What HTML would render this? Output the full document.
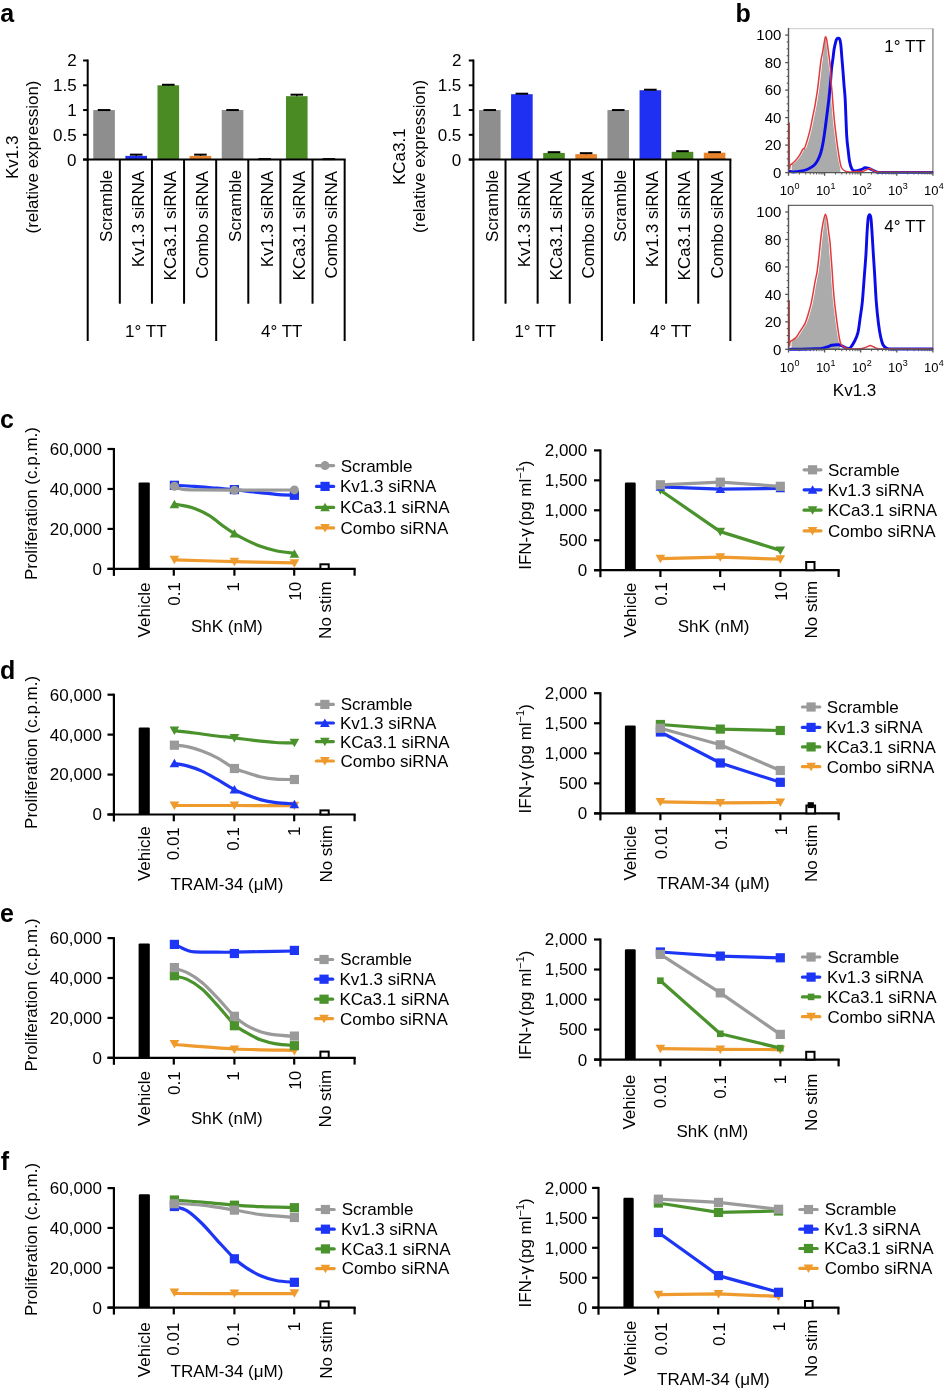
<!DOCTYPE html>
<html><head><meta charset="utf-8"><style>
html,body{margin:0;padding:0;background:#fff;}
svg{display:block;will-change:transform;}
text{font-family:"Liberation Sans", sans-serif;fill:#000;}
</style></head><body>
<svg width="946" height="1390" viewBox="0 0 946 1390">
<rect width="946" height="1390" fill="#fff"/>
<text x="0.3" y="21.7" font-size="25" font-weight="bold" fill="#000">a</text>
<text x="735.6" y="21.8" font-size="25" font-weight="bold" fill="#000">b</text>
<text x="0.1" y="428.2" font-size="25" font-weight="bold" fill="#000">c</text>
<text x="0.1" y="678.9" font-size="25" font-weight="bold" fill="#000">d</text>
<text x="0.1" y="922" font-size="25" font-weight="bold" fill="#000">e</text>
<text x="0.7" y="1170" font-size="25" font-weight="bold" fill="#000">f</text>
<rect x="93.26" y="110.05" width="21.6" height="49.55" fill="#8e8e8e"/>
<line x1="97.76" y1="110.05" x2="110.36" y2="110.05" stroke="#000" stroke-width="2"/>
<rect x="125.38" y="155.88" width="21.6" height="3.72" fill="#1f30f2"/>
<line x1="129.88" y1="154.64" x2="142.48" y2="154.64" stroke="#000" stroke-width="2"/>
<line x1="136.18" y1="154.64" x2="136.18" y2="155.88" stroke="#000" stroke-width="1.5"/>
<rect x="157.5" y="85.28" width="21.6" height="74.32" fill="#4a8b24"/>
<line x1="162" y1="84.78" x2="174.6" y2="84.78" stroke="#000" stroke-width="2"/>
<line x1="168.3" y1="84.78" x2="168.3" y2="85.28" stroke="#000" stroke-width="1.5"/>
<rect x="189.62" y="155.88" width="21.6" height="3.72" fill="#e8842c"/>
<line x1="194.12" y1="154.64" x2="206.72" y2="154.64" stroke="#000" stroke-width="2"/>
<line x1="200.42" y1="154.64" x2="200.42" y2="155.88" stroke="#000" stroke-width="1.5"/>
<rect x="221.74" y="110.05" width="21.6" height="49.55" fill="#8e8e8e"/>
<line x1="226.24" y1="110.05" x2="238.84" y2="110.05" stroke="#000" stroke-width="2"/>
<line x1="258.36" y1="159.1" x2="270.96" y2="159.1" stroke="#000" stroke-width="2"/>
<line x1="264.66" y1="159.1" x2="264.66" y2="159.6" stroke="#000" stroke-width="1.5"/>
<rect x="285.98" y="96.18" width="21.6" height="63.42" fill="#4a8b24"/>
<line x1="290.48" y1="94.69" x2="303.08" y2="94.69" stroke="#000" stroke-width="2"/>
<line x1="296.78" y1="94.69" x2="296.78" y2="96.18" stroke="#000" stroke-width="1.5"/>
<line x1="322.6" y1="159.1" x2="335.2" y2="159.1" stroke="#000" stroke-width="2"/>
<line x1="328.9" y1="159.1" x2="328.9" y2="159.6" stroke="#000" stroke-width="1.5"/>
<line x1="87.7" y1="59.5" x2="87.7" y2="160.6" stroke="#000" stroke-width="2"/>
<line x1="83.1" y1="159.6" x2="87.7" y2="159.6" stroke="#000" stroke-width="2"/>
<text x="67.11" y="165.5" font-size="17" fill="#000">0</text>
<line x1="83.1" y1="134.82" x2="87.7" y2="134.82" stroke="#000" stroke-width="2"/>
<text x="52.98" y="140.72" font-size="17" fill="#000">0.5</text>
<line x1="83.1" y1="110.05" x2="87.7" y2="110.05" stroke="#000" stroke-width="2"/>
<text x="67.28" y="115.95" font-size="17" fill="#000">1</text>
<line x1="83.1" y1="85.28" x2="87.7" y2="85.28" stroke="#000" stroke-width="2"/>
<text x="52.98" y="91.18" font-size="17" fill="#000">1.5</text>
<line x1="83.1" y1="60.5" x2="87.7" y2="60.5" stroke="#000" stroke-width="2"/>
<text x="67.3" y="66.4" font-size="17" fill="#000">2</text>
<line x1="83.1" y1="159.6" x2="345.66" y2="159.6" stroke="#000" stroke-width="2"/>
<line x1="87.7" y1="159.6" x2="87.7" y2="341" stroke="#000" stroke-width="2"/>
<line x1="119.82" y1="159.6" x2="119.82" y2="303.7" stroke="#000" stroke-width="2"/>
<line x1="151.94" y1="159.6" x2="151.94" y2="303.7" stroke="#000" stroke-width="2"/>
<line x1="184.06" y1="159.6" x2="184.06" y2="303.7" stroke="#000" stroke-width="2"/>
<line x1="216.18" y1="159.6" x2="216.18" y2="341" stroke="#000" stroke-width="2"/>
<line x1="248.3" y1="159.6" x2="248.3" y2="303.7" stroke="#000" stroke-width="2"/>
<line x1="280.42" y1="159.6" x2="280.42" y2="303.7" stroke="#000" stroke-width="2"/>
<line x1="312.54" y1="159.6" x2="312.54" y2="303.7" stroke="#000" stroke-width="2"/>
<line x1="344.66" y1="159.6" x2="344.66" y2="341" stroke="#000" stroke-width="2"/>
<text transform="translate(112.06,241.95) rotate(-90)" font-size="17">Scramble</text>
<text transform="translate(144.18,267.23) rotate(-90)" font-size="17">Kv1.3 siRNA</text>
<text transform="translate(176.3,280.46) rotate(-90)" font-size="17">KCa3.1 siRNA</text>
<text transform="translate(208.42,278.56) rotate(-90)" font-size="17">Combo siRNA</text>
<text transform="translate(240.54,241.95) rotate(-90)" font-size="17">Scramble</text>
<text transform="translate(272.66,267.23) rotate(-90)" font-size="17">Kv1.3 siRNA</text>
<text transform="translate(304.78,280.46) rotate(-90)" font-size="17">KCa3.1 siRNA</text>
<text transform="translate(336.9,278.56) rotate(-90)" font-size="17">Combo siRNA</text>
<text x="125.11" y="337.1" font-size="17" fill="#000">1° TT</text>
<text x="261.01" y="337.1" font-size="17" fill="#000">4° TT</text>
<text transform="translate(17.5,179.06) rotate(-90)" font-size="17">Kv1.3</text>
<text transform="translate(38.3,233.53) rotate(-90)" font-size="17">(relative expression)</text>
<rect x="478.96" y="110.05" width="21.6" height="49.55" fill="#8e8e8e"/>
<line x1="483.46" y1="110.05" x2="496.06" y2="110.05" stroke="#000" stroke-width="2"/>
<rect x="511.08" y="94.19" width="21.6" height="65.41" fill="#1f30f2"/>
<line x1="515.58" y1="93.7" x2="528.18" y2="93.7" stroke="#000" stroke-width="2"/>
<line x1="521.88" y1="93.7" x2="521.88" y2="94.19" stroke="#000" stroke-width="1.5"/>
<rect x="543.2" y="152.91" width="21.6" height="6.69" fill="#4a8b24"/>
<line x1="547.7" y1="152.17" x2="560.3" y2="152.17" stroke="#000" stroke-width="2"/>
<line x1="554" y1="152.17" x2="554" y2="152.91" stroke="#000" stroke-width="1.5"/>
<rect x="575.32" y="154.15" width="21.6" height="5.45" fill="#e8842c"/>
<line x1="579.82" y1="153.16" x2="592.42" y2="153.16" stroke="#000" stroke-width="2"/>
<line x1="586.12" y1="153.16" x2="586.12" y2="154.15" stroke="#000" stroke-width="1.5"/>
<rect x="607.44" y="110.05" width="21.6" height="49.55" fill="#8e8e8e"/>
<line x1="611.94" y1="110.05" x2="624.54" y2="110.05" stroke="#000" stroke-width="2"/>
<rect x="639.56" y="90.23" width="21.6" height="69.37" fill="#1f30f2"/>
<line x1="644.06" y1="89.73" x2="656.66" y2="89.73" stroke="#000" stroke-width="2"/>
<line x1="650.36" y1="89.73" x2="650.36" y2="90.23" stroke="#000" stroke-width="1.5"/>
<rect x="671.68" y="151.82" width="21.6" height="7.78" fill="#4a8b24"/>
<line x1="676.18" y1="151.18" x2="688.78" y2="151.18" stroke="#000" stroke-width="2"/>
<line x1="682.48" y1="151.18" x2="682.48" y2="151.82" stroke="#000" stroke-width="1.5"/>
<rect x="703.8" y="152.66" width="21.6" height="6.94" fill="#e8842c"/>
<line x1="708.3" y1="152.17" x2="720.9" y2="152.17" stroke="#000" stroke-width="2"/>
<line x1="714.6" y1="152.17" x2="714.6" y2="152.66" stroke="#000" stroke-width="1.5"/>
<line x1="473.4" y1="59.5" x2="473.4" y2="160.6" stroke="#000" stroke-width="2"/>
<line x1="468.8" y1="159.6" x2="473.4" y2="159.6" stroke="#000" stroke-width="2"/>
<text x="451.81" y="165.5" font-size="17" fill="#000">0</text>
<line x1="468.8" y1="134.82" x2="473.4" y2="134.82" stroke="#000" stroke-width="2"/>
<text x="437.68" y="140.72" font-size="17" fill="#000">0.5</text>
<line x1="468.8" y1="110.05" x2="473.4" y2="110.05" stroke="#000" stroke-width="2"/>
<text x="451.98" y="115.95" font-size="17" fill="#000">1</text>
<line x1="468.8" y1="85.28" x2="473.4" y2="85.28" stroke="#000" stroke-width="2"/>
<text x="437.68" y="91.18" font-size="17" fill="#000">1.5</text>
<line x1="468.8" y1="60.5" x2="473.4" y2="60.5" stroke="#000" stroke-width="2"/>
<text x="452" y="66.4" font-size="17" fill="#000">2</text>
<line x1="468.8" y1="159.6" x2="731.36" y2="159.6" stroke="#000" stroke-width="2"/>
<line x1="473.4" y1="159.6" x2="473.4" y2="341" stroke="#000" stroke-width="2"/>
<line x1="505.52" y1="159.6" x2="505.52" y2="303.7" stroke="#000" stroke-width="2"/>
<line x1="537.64" y1="159.6" x2="537.64" y2="303.7" stroke="#000" stroke-width="2"/>
<line x1="569.76" y1="159.6" x2="569.76" y2="303.7" stroke="#000" stroke-width="2"/>
<line x1="601.88" y1="159.6" x2="601.88" y2="341" stroke="#000" stroke-width="2"/>
<line x1="634" y1="159.6" x2="634" y2="303.7" stroke="#000" stroke-width="2"/>
<line x1="666.12" y1="159.6" x2="666.12" y2="303.7" stroke="#000" stroke-width="2"/>
<line x1="698.24" y1="159.6" x2="698.24" y2="303.7" stroke="#000" stroke-width="2"/>
<line x1="730.36" y1="159.6" x2="730.36" y2="341" stroke="#000" stroke-width="2"/>
<text transform="translate(497.76,241.95) rotate(-90)" font-size="17">Scramble</text>
<text transform="translate(529.88,267.23) rotate(-90)" font-size="17">Kv1.3 siRNA</text>
<text transform="translate(562,280.46) rotate(-90)" font-size="17">KCa3.1 siRNA</text>
<text transform="translate(594.12,278.56) rotate(-90)" font-size="17">Combo siRNA</text>
<text transform="translate(626.24,241.95) rotate(-90)" font-size="17">Scramble</text>
<text transform="translate(658.36,267.23) rotate(-90)" font-size="17">Kv1.3 siRNA</text>
<text transform="translate(690.48,280.46) rotate(-90)" font-size="17">KCa3.1 siRNA</text>
<text transform="translate(722.6,278.56) rotate(-90)" font-size="17">Combo siRNA</text>
<text x="514.41" y="337.1" font-size="17" fill="#000">1° TT</text>
<text x="650.01" y="337.1" font-size="17" fill="#000">4° TT</text>
<text transform="translate(405.3,185.03) rotate(-90)" font-size="17">KCa3.1</text>
<text transform="translate(425,232.93) rotate(-90)" font-size="17">(relative expression)</text>
<path d="M791.7,172.6 C791.75,171.27 791.7,166.07 792,164.6 C792.3,163.13 792.63,164.48 793.5,163.8 C794.37,163.12 795.97,161.85 797.2,160.5 C798.43,159.15 799.67,157.62 800.9,155.7 C802.13,153.78 803.73,150.23 804.6,149 C805.47,147.77 805.35,149.9 806.1,148.3 C806.85,146.7 808.12,142.73 809.1,139.4 C810.08,136.07 811.15,132 812,128.3 C812.85,124.6 813.45,120.9 814.2,117.2 C814.95,113.5 815.82,109.8 816.5,106.1 C817.18,102.4 817.82,98.07 818.3,95 C818.78,91.93 818.85,92.12 819.4,87.7 C819.95,83.28 821.05,73.18 821.6,68.5 C822.15,63.82 822.07,64.48 822.7,59.6 C823.33,54.72 824.47,38.95 825.4,39.2 C826.33,39.45 827.7,56.22 828.3,61.1 C828.9,65.98 828.77,65.05 829,68.5 C829.23,71.95 829.4,77.62 829.7,81.8 C830,85.98 830.42,88.93 830.8,93.6 C831.18,98.27 831.57,104.63 832,109.8 C832.43,114.97 832.78,119.05 833.4,124.6 C834.02,130.15 834.95,137.55 835.7,143.1 C836.45,148.65 837.17,153.83 837.9,157.9 C838.63,161.97 839.67,165.05 840.1,167.5 C840.53,169.95 840.43,171.75 840.5,172.6 Z" fill="#ababab" stroke="none"/>
<line x1="788.5" y1="28.6" x2="932.9" y2="28.6" stroke="#d4d4d4" stroke-width="1.2"/>
<line x1="932.9" y1="28.6" x2="932.9" y2="172.6" stroke="#8a8a8a" stroke-width="1.4"/>
<path d="M789.7,171.2 C790.32,171.33 791.55,172 793.4,172 C795.25,172 798.33,171.7 800.8,171.2 C803.27,170.7 805.98,169.98 808.2,169 C810.42,168.02 812.5,166.78 814.1,165.3 C815.7,163.82 816.68,162.2 817.8,160.1 C818.92,158 819.93,155.53 820.8,152.7 C821.67,149.87 822.27,147.17 823,143.1 C823.73,139.03 824.52,133.23 825.2,128.3 C825.88,123.37 826.48,118.43 827.1,113.5 C827.72,108.57 828.35,103.73 828.9,98.7 C829.45,93.67 829.97,88.22 830.4,83.3 C830.83,78.38 831.07,73.4 831.5,69.2 C831.93,65 832.57,61.43 833,58.1 C833.43,54.77 833.67,51.83 834.1,49.2 C834.53,46.57 835.13,44.03 835.6,42.3 C836.07,40.57 836.25,39.38 836.9,38.8 C837.55,38.22 838.85,37.8 839.5,38.8 C840.15,39.8 840.4,41.58 840.8,44.8 C841.2,48.02 841.53,53.67 841.9,58.1 C842.27,62.53 842.63,66.72 843,71.4 C843.37,76.08 843.73,81.5 844.1,86.2 C844.47,90.9 844.77,91.35 845.2,99.6 C845.63,107.85 846.2,127.22 846.7,135.7 C847.2,144.18 847.72,146.18 848.2,150.5 C848.68,154.82 848.98,158.52 849.6,161.6 C850.22,164.68 851,167.43 851.9,169 C852.8,170.57 853.45,170.9 855,171 C856.55,171.1 859.53,170.13 861.2,169.6 C862.87,169.07 863.73,168 865,167.8 C866.27,167.6 867.38,167.95 868.8,168.4 C870.22,168.85 872.07,169.87 873.5,170.5 C874.93,171.13 875.48,171.88 877.4,172.2 C879.32,172.52 875.9,172.37 885,172.4 C894.1,172.43 924.17,172.4 932,172.4" fill="none" stroke="#0c0ce8" stroke-width="2.9" stroke-linejoin="round" stroke-linecap="round"/>
<path d="M789.2,122.4 C789.23,129.67 789.2,158.97 789.4,166 C789.6,173.03 789.98,164.97 790.4,164.6 C790.82,164.23 791.03,164.48 791.9,163.8 C792.77,163.12 794.37,161.85 795.6,160.5 C796.83,159.15 798.07,157.62 799.3,155.7 C800.53,153.78 802.13,150.23 803,149 C803.87,147.77 803.75,149.9 804.5,148.3 C805.25,146.7 806.52,142.73 807.5,139.4 C808.48,136.07 809.55,132 810.4,128.3 C811.25,124.6 811.85,120.9 812.6,117.2 C813.35,113.5 814.22,109.8 814.9,106.1 C815.58,102.4 816.22,98.07 816.7,95 C817.18,91.93 817.25,92.12 817.8,87.7 C818.35,83.28 819.45,73.18 820,68.5 C820.55,63.82 820.67,62.32 821.1,59.6 C821.53,56.88 822.1,54.92 822.6,52.2 C823.1,49.48 823.63,45.83 824.1,43.3 C824.57,40.77 824.97,37.62 825.4,37 C825.83,36.38 826.23,37.43 826.7,39.6 C827.17,41.77 827.7,46.42 828.2,50 C828.7,53.58 829.33,58.02 829.7,61.1 C830.07,64.18 830.17,65.05 830.4,68.5 C830.63,71.95 830.8,77.62 831.1,81.8 C831.4,85.98 831.82,88.93 832.2,93.6 C832.58,98.27 832.97,104.63 833.4,109.8 C833.83,114.97 834.18,119.05 834.8,124.6 C835.42,130.15 836.35,137.55 837.1,143.1 C837.85,148.65 838.57,153.83 839.3,157.9 C840.03,161.97 840.52,165.28 841.5,167.5 C842.48,169.72 843.72,170.45 845.2,171.2 C846.68,171.95 848.43,171.93 850.4,172 C852.37,172.07 854.9,171.73 857,171.6 C859.1,171.47 861.35,171.55 863,171.2 C864.65,170.85 865.78,169.93 866.9,169.5 C868.02,169.07 868.68,168.47 869.7,168.6 C870.72,168.73 871.78,169.75 873,170.3 C874.22,170.85 875,171.58 877,171.9 C879,172.22 875.83,172.15 885,172.2 C894.17,172.25 924.17,172.2 932,172.2" fill="none" stroke="#e2393b" stroke-width="1.5" stroke-linejoin="round"/>
<line x1="788.5" y1="28" x2="788.5" y2="173.2" stroke="#555" stroke-width="1.4"/>
<line x1="788.5" y1="172.6" x2="932.9" y2="172.6" stroke="#555" stroke-width="1.4"/>
<line x1="785.2" y1="172.6" x2="788.5" y2="172.6" stroke="#555" stroke-width="1.3"/>
<text x="773.04" y="177.8" font-size="15" fill="#000">0</text>
<line x1="786.7" y1="165.72" x2="788.5" y2="165.72" stroke="#555" stroke-width="1.1"/>
<line x1="786.7" y1="158.85" x2="788.5" y2="158.85" stroke="#555" stroke-width="1.1"/>
<line x1="786.7" y1="151.97" x2="788.5" y2="151.97" stroke="#555" stroke-width="1.1"/>
<line x1="785.2" y1="145.1" x2="788.5" y2="145.1" stroke="#555" stroke-width="1.3"/>
<text x="764.7" y="150.3" font-size="15" fill="#000">20</text>
<line x1="786.7" y1="138.22" x2="788.5" y2="138.22" stroke="#555" stroke-width="1.1"/>
<line x1="786.7" y1="131.35" x2="788.5" y2="131.35" stroke="#555" stroke-width="1.1"/>
<line x1="786.7" y1="124.47" x2="788.5" y2="124.47" stroke="#555" stroke-width="1.1"/>
<line x1="785.2" y1="117.6" x2="788.5" y2="117.6" stroke="#555" stroke-width="1.3"/>
<text x="764.7" y="122.8" font-size="15" fill="#000">40</text>
<line x1="786.7" y1="110.72" x2="788.5" y2="110.72" stroke="#555" stroke-width="1.1"/>
<line x1="786.7" y1="103.85" x2="788.5" y2="103.85" stroke="#555" stroke-width="1.1"/>
<line x1="786.7" y1="96.97" x2="788.5" y2="96.97" stroke="#555" stroke-width="1.1"/>
<line x1="785.2" y1="90.1" x2="788.5" y2="90.1" stroke="#555" stroke-width="1.3"/>
<text x="764.7" y="95.3" font-size="15" fill="#000">60</text>
<line x1="786.7" y1="83.22" x2="788.5" y2="83.22" stroke="#555" stroke-width="1.1"/>
<line x1="786.7" y1="76.35" x2="788.5" y2="76.35" stroke="#555" stroke-width="1.1"/>
<line x1="786.7" y1="69.47" x2="788.5" y2="69.47" stroke="#555" stroke-width="1.1"/>
<line x1="785.2" y1="62.6" x2="788.5" y2="62.6" stroke="#555" stroke-width="1.3"/>
<text x="764.7" y="67.8" font-size="15" fill="#000">80</text>
<line x1="786.7" y1="55.72" x2="788.5" y2="55.72" stroke="#555" stroke-width="1.1"/>
<line x1="786.7" y1="48.85" x2="788.5" y2="48.85" stroke="#555" stroke-width="1.1"/>
<line x1="786.7" y1="41.97" x2="788.5" y2="41.97" stroke="#555" stroke-width="1.1"/>
<line x1="785.2" y1="35.1" x2="788.5" y2="35.1" stroke="#555" stroke-width="1.3"/>
<text x="756.36" y="40.3" font-size="15" fill="#000">100</text>
<line x1="788.5" y1="172.6" x2="788.5" y2="175.8" stroke="#555" stroke-width="1.3"/>
<line x1="799.37" y1="172.6" x2="799.37" y2="174.5" stroke="#555" stroke-width="1"/>
<line x1="805.72" y1="172.6" x2="805.72" y2="174.5" stroke="#555" stroke-width="1"/>
<line x1="810.23" y1="172.6" x2="810.23" y2="174.5" stroke="#555" stroke-width="1"/>
<line x1="813.73" y1="172.6" x2="813.73" y2="174.5" stroke="#555" stroke-width="1"/>
<line x1="816.59" y1="172.6" x2="816.59" y2="174.5" stroke="#555" stroke-width="1"/>
<line x1="819.01" y1="172.6" x2="819.01" y2="174.5" stroke="#555" stroke-width="1"/>
<line x1="821.1" y1="172.6" x2="821.1" y2="174.5" stroke="#555" stroke-width="1"/>
<line x1="822.95" y1="172.6" x2="822.95" y2="174.5" stroke="#555" stroke-width="1"/>
<line x1="824.6" y1="172.6" x2="824.6" y2="175.8" stroke="#555" stroke-width="1.3"/>
<line x1="835.47" y1="172.6" x2="835.47" y2="174.5" stroke="#555" stroke-width="1"/>
<line x1="841.82" y1="172.6" x2="841.82" y2="174.5" stroke="#555" stroke-width="1"/>
<line x1="846.33" y1="172.6" x2="846.33" y2="174.5" stroke="#555" stroke-width="1"/>
<line x1="849.83" y1="172.6" x2="849.83" y2="174.5" stroke="#555" stroke-width="1"/>
<line x1="852.69" y1="172.6" x2="852.69" y2="174.5" stroke="#555" stroke-width="1"/>
<line x1="855.11" y1="172.6" x2="855.11" y2="174.5" stroke="#555" stroke-width="1"/>
<line x1="857.2" y1="172.6" x2="857.2" y2="174.5" stroke="#555" stroke-width="1"/>
<line x1="859.05" y1="172.6" x2="859.05" y2="174.5" stroke="#555" stroke-width="1"/>
<line x1="860.7" y1="172.6" x2="860.7" y2="175.8" stroke="#555" stroke-width="1.3"/>
<line x1="871.57" y1="172.6" x2="871.57" y2="174.5" stroke="#555" stroke-width="1"/>
<line x1="877.92" y1="172.6" x2="877.92" y2="174.5" stroke="#555" stroke-width="1"/>
<line x1="882.43" y1="172.6" x2="882.43" y2="174.5" stroke="#555" stroke-width="1"/>
<line x1="885.93" y1="172.6" x2="885.93" y2="174.5" stroke="#555" stroke-width="1"/>
<line x1="888.79" y1="172.6" x2="888.79" y2="174.5" stroke="#555" stroke-width="1"/>
<line x1="891.21" y1="172.6" x2="891.21" y2="174.5" stroke="#555" stroke-width="1"/>
<line x1="893.3" y1="172.6" x2="893.3" y2="174.5" stroke="#555" stroke-width="1"/>
<line x1="895.15" y1="172.6" x2="895.15" y2="174.5" stroke="#555" stroke-width="1"/>
<line x1="896.8" y1="172.6" x2="896.8" y2="175.8" stroke="#555" stroke-width="1.3"/>
<line x1="907.67" y1="172.6" x2="907.67" y2="174.5" stroke="#555" stroke-width="1"/>
<line x1="914.02" y1="172.6" x2="914.02" y2="174.5" stroke="#555" stroke-width="1"/>
<line x1="918.53" y1="172.6" x2="918.53" y2="174.5" stroke="#555" stroke-width="1"/>
<line x1="922.03" y1="172.6" x2="922.03" y2="174.5" stroke="#555" stroke-width="1"/>
<line x1="924.89" y1="172.6" x2="924.89" y2="174.5" stroke="#555" stroke-width="1"/>
<line x1="927.31" y1="172.6" x2="927.31" y2="174.5" stroke="#555" stroke-width="1"/>
<line x1="929.4" y1="172.6" x2="929.4" y2="174.5" stroke="#555" stroke-width="1"/>
<line x1="931.25" y1="172.6" x2="931.25" y2="174.5" stroke="#555" stroke-width="1"/>
<line x1="932.9" y1="172.6" x2="932.9" y2="175.8" stroke="#555" stroke-width="1.3"/>
<text x="779.74" y="195.2" font-size="13">10</text>
<text x="794.4" y="189" font-size="9">0</text>
<text x="815.89" y="195.2" font-size="13">10</text>
<text x="830.55" y="189" font-size="9">1</text>
<text x="851.99" y="195.2" font-size="13">10</text>
<text x="866.65" y="189" font-size="9">2</text>
<text x="888.07" y="195.2" font-size="13">10</text>
<text x="902.73" y="189" font-size="9">3</text>
<text x="924.1" y="195.2" font-size="13">10</text>
<text x="938.76" y="189" font-size="9">4</text>
<text x="884.25" y="52.2" font-size="17" fill="#000">1° TT</text>
<path d="M791.7,349.3 C791.75,348.02 791.08,343.5 792,341.6 C792.92,339.7 795.72,339.38 797.2,337.9 C798.68,336.42 799.67,334.55 800.9,332.7 C802.13,330.85 803.62,328.4 804.6,326.8 C805.58,325.2 805.93,325.2 806.8,323.1 C807.67,321 808.8,317.53 809.8,314.2 C810.8,310.87 811.93,306.92 812.8,303.1 C813.67,299.28 814.33,295 815,291.3 C815.67,287.6 816.18,284.18 816.8,280.9 C817.42,277.62 818.02,276.23 818.7,271.6 C819.38,266.97 820.28,258.65 820.9,253.1 C821.52,247.55 821.65,244.42 822.4,238.3 C823.15,232.18 824.62,217.63 825.4,216.4 C826.18,215.17 826.57,226.63 827.1,230.9 C827.63,235.17 828.17,237.68 828.6,242 C829.03,246.32 829.33,251.87 829.7,256.8 C830.07,261.73 830.42,266.1 830.8,271.6 C831.18,277.1 831.57,284.3 832,289.8 C832.43,295.3 832.78,299.05 833.4,304.6 C834.02,310.15 834.95,317.55 835.7,323.1 C836.45,328.65 837.23,334.32 837.9,337.9 C838.57,341.48 839.33,342.7 839.7,344.6 C840.07,346.5 840.03,348.52 840.1,349.3 Z" fill="#ababab" stroke="none"/>
<line x1="788.5" y1="205.4" x2="932.9" y2="205.4" stroke="#666" stroke-width="1.2"/>
<line x1="932.9" y1="205.4" x2="932.9" y2="349.3" stroke="#8a8a8a" stroke-width="1.4"/>
<path d="M789.7,349.2 C791.55,349.2 796.48,349.27 800.8,349.2 C805.12,349.13 811.9,348.98 815.6,348.8 C819.3,348.62 820.9,348.47 823,348.1 C825.1,347.73 826.72,347.08 828.2,346.6 C829.68,346.12 830.18,345.5 831.9,345.2 C833.62,344.9 836.78,344.67 838.5,344.8 C840.22,344.93 841.08,345.53 842.2,346 C843.32,346.47 844.2,347.2 845.2,347.6 C846.2,348 847.33,348.4 848.2,348.4 C849.07,348.4 849.32,348.83 850.4,347.6 C851.48,346.37 853.43,343.55 854.7,341 C855.97,338.45 857.1,336.08 858,332.3 C858.9,328.52 859.38,323.33 860.1,318.3 C860.82,313.27 861.58,309.3 862.3,302.1 C863.02,294.9 863.78,283.18 864.4,275.1 C865.02,267.02 865.55,260.78 866,253.6 C866.45,246.42 866.73,237.93 867.1,232 C867.47,226.07 867.78,220.88 868.2,218 C868.62,215.12 869.15,214.7 869.6,214.7 C870.05,214.7 870.5,215.12 870.9,218 C871.3,220.88 871.6,226.07 872,232 C872.4,237.93 872.85,246.42 873.3,253.6 C873.75,260.78 874.2,267.02 874.7,275.1 C875.2,283.18 875.67,294 876.3,302.1 C876.93,310.2 877.78,317.95 878.5,323.7 C879.22,329.45 879.8,333 880.6,336.6 C881.4,340.2 882.22,343.32 883.3,345.3 C884.38,347.28 885.15,347.88 887.1,348.5 C889.05,349.12 887.52,348.92 895,349 C902.48,349.08 925.83,349 932,349" fill="none" stroke="#0c0ce8" stroke-width="2.9" stroke-linejoin="round" stroke-linecap="round"/>
<path d="M789.2,300.2 C789.23,307.33 789.2,336.1 789.4,343 C789.6,349.9 789.37,342.45 790.4,341.6 C791.43,340.75 794.12,339.38 795.6,337.9 C797.08,336.42 798.07,334.55 799.3,332.7 C800.53,330.85 802.02,328.4 803,326.8 C803.98,325.2 804.33,325.2 805.2,323.1 C806.07,321 807.2,317.53 808.2,314.2 C809.2,310.87 810.33,306.92 811.2,303.1 C812.07,299.28 812.73,295 813.4,291.3 C814.07,287.6 814.58,284.18 815.2,280.9 C815.82,277.62 816.42,276.23 817.1,271.6 C817.78,266.97 818.68,258.65 819.3,253.1 C819.92,247.55 820.3,242.62 820.8,238.3 C821.3,233.98 821.82,230.28 822.3,227.2 C822.78,224.12 823.18,221.97 823.7,219.8 C824.22,217.63 824.83,214.2 825.4,214.2 C825.97,214.2 826.58,217.02 827.1,219.8 C827.62,222.58 828.02,227.2 828.5,230.9 C828.98,234.6 829.57,237.68 830,242 C830.43,246.32 830.73,251.87 831.1,256.8 C831.47,261.73 831.82,266.1 832.2,271.6 C832.58,277.1 832.97,284.3 833.4,289.8 C833.83,295.3 834.18,299.05 834.8,304.6 C835.42,310.15 836.35,317.55 837.1,323.1 C837.85,328.65 838.63,334.32 839.3,337.9 C839.97,341.48 840.23,343.07 841.1,344.6 C841.97,346.13 843.45,346.43 844.5,347.1 C845.55,347.77 846.05,348.28 847.4,348.6 C848.75,348.92 850.5,348.97 852.6,349 C854.7,349.03 858.1,348.97 860,348.8 C861.9,348.63 862.75,348.37 864,348 C865.25,347.63 866.43,347 867.5,346.6 C868.57,346.2 869.4,345.57 870.4,345.6 C871.4,345.63 872.33,346.3 873.5,346.8 C874.67,347.3 875.48,348.23 877.4,348.6 C879.32,348.97 875.9,348.93 885,349 C894.1,349.07 924.17,349 932,349" fill="none" stroke="#e2393b" stroke-width="1.5" stroke-linejoin="round"/>
<line x1="788.5" y1="204.8" x2="788.5" y2="349.9" stroke="#555" stroke-width="1.4"/>
<line x1="788.5" y1="349.3" x2="932.9" y2="349.3" stroke="#555" stroke-width="1.4"/>
<line x1="785.2" y1="349.3" x2="788.5" y2="349.3" stroke="#555" stroke-width="1.3"/>
<text x="773.04" y="354.5" font-size="15" fill="#000">0</text>
<line x1="786.7" y1="342.44" x2="788.5" y2="342.44" stroke="#555" stroke-width="1.1"/>
<line x1="786.7" y1="335.57" x2="788.5" y2="335.57" stroke="#555" stroke-width="1.1"/>
<line x1="786.7" y1="328.7" x2="788.5" y2="328.7" stroke="#555" stroke-width="1.1"/>
<line x1="785.2" y1="321.84" x2="788.5" y2="321.84" stroke="#555" stroke-width="1.3"/>
<text x="764.7" y="327.04" font-size="15" fill="#000">20</text>
<line x1="786.7" y1="314.98" x2="788.5" y2="314.98" stroke="#555" stroke-width="1.1"/>
<line x1="786.7" y1="308.11" x2="788.5" y2="308.11" stroke="#555" stroke-width="1.1"/>
<line x1="786.7" y1="301.25" x2="788.5" y2="301.25" stroke="#555" stroke-width="1.1"/>
<line x1="785.2" y1="294.38" x2="788.5" y2="294.38" stroke="#555" stroke-width="1.3"/>
<text x="764.7" y="299.58" font-size="15" fill="#000">40</text>
<line x1="786.7" y1="287.51" x2="788.5" y2="287.51" stroke="#555" stroke-width="1.1"/>
<line x1="786.7" y1="280.65" x2="788.5" y2="280.65" stroke="#555" stroke-width="1.1"/>
<line x1="786.7" y1="273.78" x2="788.5" y2="273.78" stroke="#555" stroke-width="1.1"/>
<line x1="785.2" y1="266.92" x2="788.5" y2="266.92" stroke="#555" stroke-width="1.3"/>
<text x="764.7" y="272.12" font-size="15" fill="#000">60</text>
<line x1="786.7" y1="260.06" x2="788.5" y2="260.06" stroke="#555" stroke-width="1.1"/>
<line x1="786.7" y1="253.19" x2="788.5" y2="253.19" stroke="#555" stroke-width="1.1"/>
<line x1="786.7" y1="246.32" x2="788.5" y2="246.32" stroke="#555" stroke-width="1.1"/>
<line x1="785.2" y1="239.46" x2="788.5" y2="239.46" stroke="#555" stroke-width="1.3"/>
<text x="764.7" y="244.66" font-size="15" fill="#000">80</text>
<line x1="786.7" y1="232.59" x2="788.5" y2="232.59" stroke="#555" stroke-width="1.1"/>
<line x1="786.7" y1="225.73" x2="788.5" y2="225.73" stroke="#555" stroke-width="1.1"/>
<line x1="786.7" y1="218.86" x2="788.5" y2="218.86" stroke="#555" stroke-width="1.1"/>
<line x1="785.2" y1="212" x2="788.5" y2="212" stroke="#555" stroke-width="1.3"/>
<text x="756.36" y="217.2" font-size="15" fill="#000">100</text>
<line x1="788.5" y1="349.3" x2="788.5" y2="352.5" stroke="#555" stroke-width="1.3"/>
<line x1="799.37" y1="349.3" x2="799.37" y2="351.2" stroke="#555" stroke-width="1"/>
<line x1="805.72" y1="349.3" x2="805.72" y2="351.2" stroke="#555" stroke-width="1"/>
<line x1="810.23" y1="349.3" x2="810.23" y2="351.2" stroke="#555" stroke-width="1"/>
<line x1="813.73" y1="349.3" x2="813.73" y2="351.2" stroke="#555" stroke-width="1"/>
<line x1="816.59" y1="349.3" x2="816.59" y2="351.2" stroke="#555" stroke-width="1"/>
<line x1="819.01" y1="349.3" x2="819.01" y2="351.2" stroke="#555" stroke-width="1"/>
<line x1="821.1" y1="349.3" x2="821.1" y2="351.2" stroke="#555" stroke-width="1"/>
<line x1="822.95" y1="349.3" x2="822.95" y2="351.2" stroke="#555" stroke-width="1"/>
<line x1="824.6" y1="349.3" x2="824.6" y2="352.5" stroke="#555" stroke-width="1.3"/>
<line x1="835.47" y1="349.3" x2="835.47" y2="351.2" stroke="#555" stroke-width="1"/>
<line x1="841.82" y1="349.3" x2="841.82" y2="351.2" stroke="#555" stroke-width="1"/>
<line x1="846.33" y1="349.3" x2="846.33" y2="351.2" stroke="#555" stroke-width="1"/>
<line x1="849.83" y1="349.3" x2="849.83" y2="351.2" stroke="#555" stroke-width="1"/>
<line x1="852.69" y1="349.3" x2="852.69" y2="351.2" stroke="#555" stroke-width="1"/>
<line x1="855.11" y1="349.3" x2="855.11" y2="351.2" stroke="#555" stroke-width="1"/>
<line x1="857.2" y1="349.3" x2="857.2" y2="351.2" stroke="#555" stroke-width="1"/>
<line x1="859.05" y1="349.3" x2="859.05" y2="351.2" stroke="#555" stroke-width="1"/>
<line x1="860.7" y1="349.3" x2="860.7" y2="352.5" stroke="#555" stroke-width="1.3"/>
<line x1="871.57" y1="349.3" x2="871.57" y2="351.2" stroke="#555" stroke-width="1"/>
<line x1="877.92" y1="349.3" x2="877.92" y2="351.2" stroke="#555" stroke-width="1"/>
<line x1="882.43" y1="349.3" x2="882.43" y2="351.2" stroke="#555" stroke-width="1"/>
<line x1="885.93" y1="349.3" x2="885.93" y2="351.2" stroke="#555" stroke-width="1"/>
<line x1="888.79" y1="349.3" x2="888.79" y2="351.2" stroke="#555" stroke-width="1"/>
<line x1="891.21" y1="349.3" x2="891.21" y2="351.2" stroke="#555" stroke-width="1"/>
<line x1="893.3" y1="349.3" x2="893.3" y2="351.2" stroke="#555" stroke-width="1"/>
<line x1="895.15" y1="349.3" x2="895.15" y2="351.2" stroke="#555" stroke-width="1"/>
<line x1="896.8" y1="349.3" x2="896.8" y2="352.5" stroke="#555" stroke-width="1.3"/>
<line x1="907.67" y1="349.3" x2="907.67" y2="351.2" stroke="#555" stroke-width="1"/>
<line x1="914.02" y1="349.3" x2="914.02" y2="351.2" stroke="#555" stroke-width="1"/>
<line x1="918.53" y1="349.3" x2="918.53" y2="351.2" stroke="#555" stroke-width="1"/>
<line x1="922.03" y1="349.3" x2="922.03" y2="351.2" stroke="#555" stroke-width="1"/>
<line x1="924.89" y1="349.3" x2="924.89" y2="351.2" stroke="#555" stroke-width="1"/>
<line x1="927.31" y1="349.3" x2="927.31" y2="351.2" stroke="#555" stroke-width="1"/>
<line x1="929.4" y1="349.3" x2="929.4" y2="351.2" stroke="#555" stroke-width="1"/>
<line x1="931.25" y1="349.3" x2="931.25" y2="351.2" stroke="#555" stroke-width="1"/>
<line x1="932.9" y1="349.3" x2="932.9" y2="352.5" stroke="#555" stroke-width="1.3"/>
<text x="779.74" y="371.7" font-size="13">10</text>
<text x="794.4" y="365.5" font-size="9">0</text>
<text x="815.89" y="371.7" font-size="13">10</text>
<text x="830.55" y="365.5" font-size="9">1</text>
<text x="851.99" y="371.7" font-size="13">10</text>
<text x="866.65" y="365.5" font-size="9">2</text>
<text x="888.07" y="371.7" font-size="13">10</text>
<text x="902.73" y="365.5" font-size="9">3</text>
<text x="924.1" y="371.7" font-size="13">10</text>
<text x="938.76" y="365.5" font-size="9">4</text>
<text x="884.25" y="231.6" font-size="17" fill="#000">4° TT</text>
<text x="832.81" y="395.8" font-size="17" fill="#000">Kv1.3</text>
<line x1="113.9" y1="448" x2="113.9" y2="575.9" stroke="#000" stroke-width="2.2"/>
<line x1="107.5" y1="568.9" x2="113.9" y2="568.9" stroke="#000" stroke-width="2.2"/>
<text x="92.41" y="574.8" font-size="17" fill="#000">0</text>
<line x1="107.5" y1="528.93" x2="113.9" y2="528.93" stroke="#000" stroke-width="2.2"/>
<text x="49.87" y="534.83" font-size="17" fill="#000">20,000</text>
<line x1="107.5" y1="488.97" x2="113.9" y2="488.97" stroke="#000" stroke-width="2.2"/>
<text x="49.87" y="494.87" font-size="17" fill="#000">40,000</text>
<line x1="107.5" y1="449" x2="113.9" y2="449" stroke="#000" stroke-width="2.2"/>
<text x="49.87" y="454.9" font-size="17" fill="#000">60,000</text>
<line x1="107.5" y1="568.9" x2="355.7" y2="568.9" stroke="#000" stroke-width="2.2"/>
<line x1="173.8" y1="568.9" x2="173.8" y2="575.7" stroke="#000" stroke-width="2.2"/>
<line x1="234.4" y1="568.9" x2="234.4" y2="575.7" stroke="#000" stroke-width="2.2"/>
<line x1="294.2" y1="568.9" x2="294.2" y2="575.7" stroke="#000" stroke-width="2.2"/>
<line x1="354.6" y1="568.9" x2="354.6" y2="575.7" stroke="#000" stroke-width="2.2"/>
<rect x="138.6" y="482.4" width="11.2" height="86.5" rx="1.2" fill="#000"/>
<rect x="320.4" y="564.3" width="8.3" height="4.6" fill="#fff" stroke="#000" stroke-width="2"/>
<path d="M174.4,559.8 C184.4,560.1 214.4,561.1 234.4,561.6 C254.4,562.1 284.4,562.6 294.4,562.8" fill="none" stroke="#ee9a2c" stroke-width="3.2" stroke-linecap="round" stroke-linejoin="round"/>
<path d="M169.57,555.69 L179.23,555.69 L174.4,564.2 Z" fill="#ee9a2c"/>
<path d="M229.57,557.69 L239.23,557.69 L234.4,566.2 Z" fill="#ee9a2c"/>
<path d="M289.57,559.29 L299.23,559.29 L294.4,567.8 Z" fill="#ee9a2c"/>
<path d="M174.4,504.4 C175.3,504.5 176.43,504.32 179.8,505 C183.17,505.68 189.67,506.72 194.6,508.5 C199.53,510.28 204.47,512.65 209.4,515.7 C214.33,518.75 220.03,523.82 224.2,526.8 C228.37,529.78 230.7,531.38 234.4,533.6 C238.1,535.82 241.93,537.93 246.4,540.1 C250.87,542.27 256.27,544.82 261.2,546.6 C266.13,548.38 270.47,549.7 276,550.8 C281.53,551.9 291.33,552.8 294.4,553.2" fill="none" stroke="#4a922c" stroke-width="3.2" stroke-linecap="round" stroke-linejoin="round"/>
<path d="M174.4,499.8 L179.23,508.31 L169.57,508.31 Z" fill="#4a922c"/>
<path d="M234.4,529 L239.23,537.51 L229.57,537.51 Z" fill="#4a922c"/>
<path d="M294.4,549.2 L299.23,557.71 L289.57,557.71 Z" fill="#4a922c"/>
<path d="M174.4,485.3 C177.77,485.47 187.53,485.82 194.6,486.3 C201.67,486.78 210.17,487.65 216.8,488.2 C223.43,488.75 228.23,488.97 234.4,489.6 C240.57,490.23 246.87,491.22 253.8,492 C260.73,492.78 269.23,493.75 276,494.3 C282.77,494.85 291.33,495.13 294.4,495.3" fill="none" stroke="#1d35f5" stroke-width="3.2" stroke-linecap="round" stroke-linejoin="round"/>
<rect x="169.8" y="480.7" width="9.2" height="9.2" fill="#1d35f5"/>
<rect x="229.8" y="485" width="9.2" height="9.2" fill="#1d35f5"/>
<rect x="289.8" y="490.7" width="9.2" height="9.2" fill="#1d35f5"/>
<path d="M174.4,486.3 C175,486.58 176.57,487.5 178,488 C179.43,488.5 180.17,488.98 183,489.3 C185.83,489.62 186.43,489.75 195,489.9 C203.57,490.05 217.83,490.18 234.4,490.2 C250.97,490.22 284.4,490.03 294.4,490" fill="none" stroke="#9a9a9a" stroke-width="3.2" stroke-linecap="round" stroke-linejoin="round"/>
<circle cx="174.4" cy="486.3" r="4.51" fill="#9a9a9a"/>
<circle cx="234.4" cy="490.3" r="4.51" fill="#9a9a9a"/>
<circle cx="294.4" cy="489.9" r="4.51" fill="#9a9a9a"/>
<line x1="316.5" y1="465.6" x2="333.6" y2="465.6" stroke="#9a9a9a" stroke-width="3.2" stroke-linecap="round"/>
<circle cx="325.05" cy="465.6" r="4.51" fill="#9a9a9a"/>
<text x="340.63" y="471.6" font-size="17" fill="#000">Scramble</text>
<line x1="316.5" y1="486.4" x2="333.6" y2="486.4" stroke="#1d35f5" stroke-width="3.2" stroke-linecap="round"/>
<rect x="320.45" y="481.8" width="9.2" height="9.2" fill="#1d35f5"/>
<text x="340.01" y="492.4" font-size="17" fill="#000">Kv1.3 siRNA</text>
<line x1="316.5" y1="507.4" x2="333.6" y2="507.4" stroke="#4a922c" stroke-width="3.2" stroke-linecap="round"/>
<path d="M325.05,502.8 L329.88,511.31 L320.22,511.31 Z" fill="#4a922c"/>
<text x="340.01" y="513" font-size="17" fill="#000">KCa3.1 siRNA</text>
<line x1="316.5" y1="527.9" x2="333.6" y2="527.9" stroke="#ee9a2c" stroke-width="3.2" stroke-linecap="round"/>
<path d="M320.22,523.99 L329.88,523.99 L325.05,532.5 Z" fill="#ee9a2c"/>
<text x="340.54" y="534" font-size="17" fill="#000">Combo siRNA</text>
<text transform="translate(150.1,637.4) rotate(-90)" font-size="17">Vehicle</text>
<text transform="translate(180.2,605.8) rotate(-90)" font-size="17">0.1</text>
<text transform="translate(238.8,591.62) rotate(-90)" font-size="17">1</text>
<text transform="translate(300.7,600.65) rotate(-90)" font-size="17">10</text>
<text transform="translate(331.1,638.9) rotate(-90)" font-size="17">No stim</text>
<text x="190.93" y="632" font-size="17" fill="#000">ShK (nM)</text>
<text transform="translate(37.2,580.09) rotate(-90)" font-size="17">Proliferation (c.p.m.)</text>
<line x1="600.4" y1="449.4" x2="600.4" y2="577.2" stroke="#000" stroke-width="2.2"/>
<line x1="594" y1="570.2" x2="600.4" y2="570.2" stroke="#000" stroke-width="2.2"/>
<text x="577.81" y="576.1" font-size="17" fill="#000">0</text>
<line x1="594" y1="540.25" x2="600.4" y2="540.25" stroke="#000" stroke-width="2.2"/>
<text x="558.9" y="546.15" font-size="17" fill="#000">500</text>
<line x1="594" y1="510.3" x2="600.4" y2="510.3" stroke="#000" stroke-width="2.2"/>
<text x="544.72" y="516.2" font-size="17" fill="#000">1,000</text>
<line x1="594" y1="480.35" x2="600.4" y2="480.35" stroke="#000" stroke-width="2.2"/>
<text x="544.72" y="486.25" font-size="17" fill="#000">1,500</text>
<line x1="594" y1="450.4" x2="600.4" y2="450.4" stroke="#000" stroke-width="2.2"/>
<text x="544.72" y="456.3" font-size="17" fill="#000">2,000</text>
<line x1="594" y1="570.2" x2="839.7" y2="570.2" stroke="#000" stroke-width="2.2"/>
<line x1="660.4" y1="570.2" x2="660.4" y2="577" stroke="#000" stroke-width="2.2"/>
<line x1="720.2" y1="570.2" x2="720.2" y2="577" stroke="#000" stroke-width="2.2"/>
<line x1="780.4" y1="570.2" x2="780.4" y2="577" stroke="#000" stroke-width="2.2"/>
<line x1="838.6" y1="570.2" x2="838.6" y2="577" stroke="#000" stroke-width="2.2"/>
<rect x="624.9" y="482.6" width="10.8" height="87.6" rx="1.2" fill="#000"/>
<rect x="806.2" y="562" width="8.3" height="8.2" fill="#fff" stroke="#000" stroke-width="2"/>
<path d="M660.4,558.6 L720.3,557.2 L780.3,559.2" fill="none" stroke="#ee9a2c" stroke-width="3.2" stroke-linejoin="round"/>
<path d="M655.57,554.69 L665.23,554.69 L660.4,563.2 Z" fill="#ee9a2c"/>
<path d="M715.47,553.29 L725.13,553.29 L720.3,561.8 Z" fill="#ee9a2c"/>
<path d="M775.47,555.29 L785.13,555.29 L780.3,563.8 Z" fill="#ee9a2c"/>
<path d="M660.4,490.2 L720.3,531.6 L780.3,550.4" fill="none" stroke="#4a922c" stroke-width="3.2" stroke-linejoin="round"/>
<path d="M655.57,486.29 L665.23,486.29 L660.4,494.8 Z" fill="#4a922c"/>
<path d="M715.47,527.69 L725.13,527.69 L720.3,536.2 Z" fill="#4a922c"/>
<path d="M775.47,546.49 L785.13,546.49 L780.3,555 Z" fill="#4a922c"/>
<path d="M660.4,486.8 L720.3,489.2 L780.3,488.4" fill="none" stroke="#1d35f5" stroke-width="3.2" stroke-linejoin="round"/>
<path d="M660.4,482.2 L665.23,490.71 L655.57,490.71 Z" fill="#1d35f5"/>
<path d="M720.3,484.6 L725.13,493.11 L715.47,493.11 Z" fill="#1d35f5"/>
<path d="M780.3,483.8 L785.13,492.31 L775.47,492.31 Z" fill="#1d35f5"/>
<path d="M660.4,484.8 L720.3,482.2 L780.3,486.3" fill="none" stroke="#9a9a9a" stroke-width="3.2" stroke-linejoin="round"/>
<rect x="655.8" y="480.2" width="9.2" height="9.2" fill="#9a9a9a"/>
<rect x="715.7" y="477.6" width="9.2" height="9.2" fill="#9a9a9a"/>
<rect x="775.7" y="481.7" width="9.2" height="9.2" fill="#9a9a9a"/>
<line x1="804.1" y1="469.8" x2="821" y2="469.8" stroke="#9a9a9a" stroke-width="3.2" stroke-linecap="round"/>
<rect x="807.95" y="465.2" width="9.2" height="9.2" fill="#9a9a9a"/>
<text x="828.03" y="475.6" font-size="17" fill="#000">Scramble</text>
<line x1="804.1" y1="489.8" x2="821" y2="489.8" stroke="#1d35f5" stroke-width="3.2" stroke-linecap="round"/>
<path d="M812.55,485.2 L817.38,493.71 L807.72,493.71 Z" fill="#1d35f5"/>
<text x="827.41" y="495.7" font-size="17" fill="#000">Kv1.3 siRNA</text>
<line x1="804.1" y1="510.2" x2="821" y2="510.2" stroke="#4a922c" stroke-width="3.2" stroke-linecap="round"/>
<path d="M807.72,506.29 L817.38,506.29 L812.55,514.8 Z" fill="#4a922c"/>
<text x="827.41" y="516" font-size="17" fill="#000">KCa3.1 siRNA</text>
<line x1="804.1" y1="530.8" x2="821" y2="530.8" stroke="#ee9a2c" stroke-width="3.2" stroke-linecap="round"/>
<path d="M807.72,526.89 L817.38,526.89 L812.55,535.4 Z" fill="#ee9a2c"/>
<text x="827.94" y="537" font-size="17" fill="#000">Combo siRNA</text>
<text transform="translate(636.2,637.5) rotate(-90)" font-size="17">Vehicle</text>
<text transform="translate(666.6,605.8) rotate(-90)" font-size="17">0.1</text>
<text transform="translate(725.2,591.42) rotate(-90)" font-size="17">1</text>
<text transform="translate(787.3,600.65) rotate(-90)" font-size="17">10</text>
<text transform="translate(817.4,638.5) rotate(-90)" font-size="17">No stim</text>
<text x="677.73" y="632" font-size="17" fill="#000">ShK (nM)</text>
<text transform="translate(530.7,569.77) rotate(-90)" font-size="17">IFN-γ<tspan dx="2.3">(pg ml</tspan><tspan font-size="11" dy="-6.5">−1</tspan><tspan dy="6.5">)</tspan></text>
<line x1="113.9" y1="693.7" x2="113.9" y2="821.5" stroke="#000" stroke-width="2.2"/>
<line x1="107.5" y1="814.5" x2="113.9" y2="814.5" stroke="#000" stroke-width="2.2"/>
<text x="92.41" y="820.4" font-size="17" fill="#000">0</text>
<line x1="107.5" y1="774.57" x2="113.9" y2="774.57" stroke="#000" stroke-width="2.2"/>
<text x="49.87" y="780.47" font-size="17" fill="#000">20,000</text>
<line x1="107.5" y1="734.63" x2="113.9" y2="734.63" stroke="#000" stroke-width="2.2"/>
<text x="49.87" y="740.53" font-size="17" fill="#000">40,000</text>
<line x1="107.5" y1="694.7" x2="113.9" y2="694.7" stroke="#000" stroke-width="2.2"/>
<text x="49.87" y="700.6" font-size="17" fill="#000">60,000</text>
<line x1="107.5" y1="814.5" x2="355.7" y2="814.5" stroke="#000" stroke-width="2.2"/>
<line x1="173.8" y1="814.5" x2="173.8" y2="821.3" stroke="#000" stroke-width="2.2"/>
<line x1="234.4" y1="814.5" x2="234.4" y2="821.3" stroke="#000" stroke-width="2.2"/>
<line x1="294.2" y1="814.5" x2="294.2" y2="821.3" stroke="#000" stroke-width="2.2"/>
<line x1="354.6" y1="814.5" x2="354.6" y2="821.3" stroke="#000" stroke-width="2.2"/>
<rect x="138.7" y="727.6" width="11.1" height="86.9" rx="1.2" fill="#000"/>
<rect x="320.4" y="810.4" width="8.3" height="4.1" fill="#fff" stroke="#000" stroke-width="2"/>
<path d="M174.4,805.5 C184.4,805.5 214.4,805.48 234.4,805.5 C254.4,805.52 284.4,805.58 294.4,805.6" fill="none" stroke="#ee9a2c" stroke-width="3.2" stroke-linecap="round" stroke-linejoin="round"/>
<path d="M169.57,801.39 L179.23,801.39 L174.4,809.9 Z" fill="#ee9a2c"/>
<path d="M229.57,801.49 L239.23,801.49 L234.4,810 Z" fill="#ee9a2c"/>
<path d="M289.57,801.69 L299.23,801.69 L294.4,810.2 Z" fill="#ee9a2c"/>
<path d="M174.4,730.7 C177.77,731.08 187.53,732.12 194.6,733 C201.67,733.88 210.17,735.2 216.8,736 C223.43,736.8 228.23,737.07 234.4,737.8 C240.57,738.53 246.87,739.62 253.8,740.4 C260.73,741.18 269.23,742.07 276,742.5 C282.77,742.93 291.33,742.92 294.4,743" fill="none" stroke="#4a922c" stroke-width="3.2" stroke-linecap="round" stroke-linejoin="round"/>
<path d="M169.57,726.49 L179.23,726.49 L174.4,735 Z" fill="#4a922c"/>
<path d="M229.57,733.89 L239.23,733.89 L234.4,742.4 Z" fill="#4a922c"/>
<path d="M289.57,738.69 L299.23,738.69 L294.4,747.2 Z" fill="#4a922c"/>
<path d="M174.4,763.5 C176.53,763.9 182.6,764.63 187.2,765.9 C191.8,767.17 197.07,768.88 202,771.1 C206.93,773.32 211.4,776.12 216.8,779.2 C222.2,782.28 229.47,787.02 234.4,789.6 C239.33,792.18 241.93,792.98 246.4,794.7 C250.87,796.42 256.27,798.58 261.2,799.9 C266.13,801.22 270.47,801.92 276,802.6 C281.53,803.28 291.33,803.77 294.4,804" fill="none" stroke="#1d35f5" stroke-width="3.2" stroke-linecap="round" stroke-linejoin="round"/>
<path d="M174.4,758.7 L179.23,767.21 L169.57,767.21 Z" fill="#1d35f5"/>
<path d="M234.4,785 L239.23,793.51 L229.57,793.51 Z" fill="#1d35f5"/>
<path d="M294.4,799.8 L299.23,808.31 L289.57,808.31 Z" fill="#1d35f5"/>
<path d="M174.4,745.2 C176.53,745.43 182.6,745.62 187.2,746.6 C191.8,747.58 197.07,749.25 202,751.1 C206.93,752.95 211.4,754.83 216.8,757.7 C222.2,760.57 229.47,765.83 234.4,768.3 C239.33,770.77 241.93,771.05 246.4,772.5 C250.87,773.95 256.27,775.88 261.2,777 C266.13,778.12 270.47,778.78 276,779.2 C281.53,779.62 291.33,779.45 294.4,779.5" fill="none" stroke="#9a9a9a" stroke-width="3.2" stroke-linecap="round" stroke-linejoin="round"/>
<rect x="169.8" y="740.6" width="9.2" height="9.2" fill="#9a9a9a"/>
<rect x="229.8" y="763.9" width="9.2" height="9.2" fill="#9a9a9a"/>
<rect x="289.8" y="774.9" width="9.2" height="9.2" fill="#9a9a9a"/>
<line x1="316.3" y1="704.4" x2="333.4" y2="704.4" stroke="#9a9a9a" stroke-width="3.2" stroke-linecap="round"/>
<rect x="320.25" y="699.8" width="9.2" height="9.2" fill="#9a9a9a"/>
<text x="340.63" y="710.3" font-size="17" fill="#000">Scramble</text>
<line x1="316.3" y1="723" x2="333.4" y2="723" stroke="#1d35f5" stroke-width="3.2" stroke-linecap="round"/>
<path d="M324.85,718.4 L329.68,726.91 L320.02,726.91 Z" fill="#1d35f5"/>
<text x="340.01" y="728.9" font-size="17" fill="#000">Kv1.3 siRNA</text>
<line x1="316.3" y1="741.6" x2="333.4" y2="741.6" stroke="#4a922c" stroke-width="3.2" stroke-linecap="round"/>
<path d="M320.02,737.69 L329.68,737.69 L324.85,746.2 Z" fill="#4a922c"/>
<text x="340.01" y="747.5" font-size="17" fill="#000">KCa3.1 siRNA</text>
<line x1="316.3" y1="761" x2="333.4" y2="761" stroke="#ee9a2c" stroke-width="3.2" stroke-linecap="round"/>
<path d="M320.02,757.09 L329.68,757.09 L324.85,765.6 Z" fill="#ee9a2c"/>
<text x="340.54" y="766.9" font-size="17" fill="#000">Combo siRNA</text>
<text transform="translate(150.1,881.1) rotate(-90)" font-size="17">Vehicle</text>
<text transform="translate(179,860.26) rotate(-90)" font-size="17">0.01</text>
<text transform="translate(238.8,850.8) rotate(-90)" font-size="17">0.1</text>
<text transform="translate(299.6,835.92) rotate(-90)" font-size="17">1</text>
<text transform="translate(332.3,882.6) rotate(-90)" font-size="17">No stim</text>
<text x="170.62" y="889.8" font-size="17" fill="#000">TRAM-34 (μM)</text>
<text transform="translate(37.2,828.89) rotate(-90)" font-size="17">Proliferation (c.p.m.)</text>
<line x1="600.4" y1="692.2" x2="600.4" y2="820.4" stroke="#000" stroke-width="2.2"/>
<line x1="594" y1="813.4" x2="600.4" y2="813.4" stroke="#000" stroke-width="2.2"/>
<text x="577.81" y="819.3" font-size="17" fill="#000">0</text>
<line x1="594" y1="783.35" x2="600.4" y2="783.35" stroke="#000" stroke-width="2.2"/>
<text x="558.9" y="789.25" font-size="17" fill="#000">500</text>
<line x1="594" y1="753.3" x2="600.4" y2="753.3" stroke="#000" stroke-width="2.2"/>
<text x="544.72" y="759.2" font-size="17" fill="#000">1,000</text>
<line x1="594" y1="723.25" x2="600.4" y2="723.25" stroke="#000" stroke-width="2.2"/>
<text x="544.72" y="729.15" font-size="17" fill="#000">1,500</text>
<line x1="594" y1="693.2" x2="600.4" y2="693.2" stroke="#000" stroke-width="2.2"/>
<text x="544.72" y="699.1" font-size="17" fill="#000">2,000</text>
<line x1="594" y1="813.4" x2="839.7" y2="813.4" stroke="#000" stroke-width="2.2"/>
<line x1="660.4" y1="813.4" x2="660.4" y2="820.2" stroke="#000" stroke-width="2.2"/>
<line x1="720.2" y1="813.4" x2="720.2" y2="820.2" stroke="#000" stroke-width="2.2"/>
<line x1="780.4" y1="813.4" x2="780.4" y2="820.2" stroke="#000" stroke-width="2.2"/>
<line x1="838.6" y1="813.4" x2="838.6" y2="820.2" stroke="#000" stroke-width="2.2"/>
<rect x="624.9" y="725.6" width="10.8" height="87.8" rx="1.2" fill="#000"/>
<rect x="806.4" y="805.5" width="8.7" height="7.9" fill="#fff" stroke="#000" stroke-width="2"/>
<rect x="807.65" y="802.2" width="6.2" height="5.9" fill="#000"/>
<path d="M660.4,801.8 L720.3,802.9 L780.3,802.5" fill="none" stroke="#ee9a2c" stroke-width="3.2" stroke-linejoin="round"/>
<path d="M655.57,797.89 L665.23,797.89 L660.4,806.4 Z" fill="#ee9a2c"/>
<path d="M715.47,798.99 L725.13,798.99 L720.3,807.5 Z" fill="#ee9a2c"/>
<path d="M775.47,798.59 L785.13,798.59 L780.3,807.1 Z" fill="#ee9a2c"/>
<path d="M660.4,724.5 L720.3,729.1 L780.3,730.5" fill="none" stroke="#4a922c" stroke-width="3.2" stroke-linejoin="round"/>
<rect x="655.8" y="719.9" width="9.2" height="9.2" fill="#4a922c"/>
<rect x="715.7" y="724.5" width="9.2" height="9.2" fill="#4a922c"/>
<rect x="775.7" y="725.9" width="9.2" height="9.2" fill="#4a922c"/>
<path d="M660.4,732 L720.3,763 L780.3,782.3" fill="none" stroke="#1d35f5" stroke-width="3.2" stroke-linejoin="round"/>
<rect x="655.8" y="727.4" width="9.2" height="9.2" fill="#1d35f5"/>
<rect x="715.7" y="758.4" width="9.2" height="9.2" fill="#1d35f5"/>
<rect x="775.7" y="777.7" width="9.2" height="9.2" fill="#1d35f5"/>
<path d="M660.4,728.3 L720.3,744.8 L780.3,770.5" fill="none" stroke="#9a9a9a" stroke-width="3.2" stroke-linejoin="round"/>
<rect x="655.8" y="723.7" width="9.2" height="9.2" fill="#9a9a9a"/>
<rect x="715.7" y="740.2" width="9.2" height="9.2" fill="#9a9a9a"/>
<rect x="775.7" y="765.9" width="9.2" height="9.2" fill="#9a9a9a"/>
<line x1="802.4" y1="707" x2="819.8" y2="707" stroke="#9a9a9a" stroke-width="3.2" stroke-linecap="round"/>
<rect x="806.5" y="702.4" width="9.2" height="9.2" fill="#9a9a9a"/>
<text x="826.83" y="713" font-size="17" fill="#000">Scramble</text>
<line x1="802.4" y1="727.4" x2="819.8" y2="727.4" stroke="#1d35f5" stroke-width="3.2" stroke-linecap="round"/>
<rect x="806.5" y="722.8" width="9.2" height="9.2" fill="#1d35f5"/>
<text x="826.21" y="733.2" font-size="17" fill="#000">Kv1.3 siRNA</text>
<line x1="802.4" y1="746.9" x2="819.8" y2="746.9" stroke="#4a922c" stroke-width="3.2" stroke-linecap="round"/>
<rect x="806.5" y="742.3" width="9.2" height="9.2" fill="#4a922c"/>
<text x="826.21" y="753" font-size="17" fill="#000">KCa3.1 siRNA</text>
<line x1="802.4" y1="766.7" x2="819.8" y2="766.7" stroke="#ee9a2c" stroke-width="3.2" stroke-linecap="round"/>
<path d="M806.27,762.79 L815.93,762.79 L811.1,771.3 Z" fill="#ee9a2c"/>
<text x="826.74" y="772.6" font-size="17" fill="#000">Combo siRNA</text>
<text transform="translate(636.2,880.6) rotate(-90)" font-size="17">Vehicle</text>
<text transform="translate(666.7,859.16) rotate(-90)" font-size="17">0.01</text>
<text transform="translate(726.6,849.7) rotate(-90)" font-size="17">0.1</text>
<text transform="translate(786.6,835.32) rotate(-90)" font-size="17">1</text>
<text transform="translate(817.4,882.1) rotate(-90)" font-size="17">No stim</text>
<text x="657.02" y="888.9" font-size="17" fill="#000">TRAM-34 (μM)</text>
<text transform="translate(530.7,813.47) rotate(-90)" font-size="17">IFN-γ<tspan dx="2.3">(pg ml</tspan><tspan font-size="11" dy="-6.5">−1</tspan><tspan dy="6.5">)</tspan></text>
<line x1="113.9" y1="937.1" x2="113.9" y2="1064.8" stroke="#000" stroke-width="2.2"/>
<line x1="107.5" y1="1057.8" x2="113.9" y2="1057.8" stroke="#000" stroke-width="2.2"/>
<text x="92.41" y="1063.7" font-size="17" fill="#000">0</text>
<line x1="107.5" y1="1017.9" x2="113.9" y2="1017.9" stroke="#000" stroke-width="2.2"/>
<text x="49.87" y="1023.8" font-size="17" fill="#000">20,000</text>
<line x1="107.5" y1="978" x2="113.9" y2="978" stroke="#000" stroke-width="2.2"/>
<text x="49.87" y="983.9" font-size="17" fill="#000">40,000</text>
<line x1="107.5" y1="938.1" x2="113.9" y2="938.1" stroke="#000" stroke-width="2.2"/>
<text x="49.87" y="944" font-size="17" fill="#000">60,000</text>
<line x1="107.5" y1="1057.8" x2="355.7" y2="1057.8" stroke="#000" stroke-width="2.2"/>
<line x1="173.8" y1="1057.8" x2="173.8" y2="1064.6" stroke="#000" stroke-width="2.2"/>
<line x1="234.4" y1="1057.8" x2="234.4" y2="1064.6" stroke="#000" stroke-width="2.2"/>
<line x1="294.2" y1="1057.8" x2="294.2" y2="1064.6" stroke="#000" stroke-width="2.2"/>
<line x1="354.6" y1="1057.8" x2="354.6" y2="1064.6" stroke="#000" stroke-width="2.2"/>
<rect x="138.6" y="943.4" width="11.2" height="114.4" rx="1.2" fill="#000"/>
<rect x="320.4" y="1051.6" width="8.3" height="6.2" fill="#fff" stroke="#000" stroke-width="2"/>
<path d="M174.4,1044.5 C184.4,1045.25 214.4,1048.02 234.4,1049 C254.4,1049.98 284.4,1050.17 294.4,1050.4" fill="none" stroke="#ee9a2c" stroke-width="3.2" stroke-linecap="round" stroke-linejoin="round"/>
<path d="M169.57,1039.99 L179.23,1039.99 L174.4,1048.5 Z" fill="#ee9a2c"/>
<path d="M229.57,1045.39 L239.23,1045.39 L234.4,1053.9 Z" fill="#ee9a2c"/>
<path d="M289.57,1047.09 L299.23,1047.09 L294.4,1055.6 Z" fill="#ee9a2c"/>
<path d="M174.4,976 C176.53,976.57 182.6,977.23 187.2,979.4 C191.8,981.57 197.07,984.8 202,989 C206.93,993.2 211.4,998.68 216.8,1004.6 C222.2,1010.52 229.47,1019.82 234.4,1024.5 C239.33,1029.18 241.93,1030.1 246.4,1032.7 C250.87,1035.3 256.27,1038.25 261.2,1040.1 C266.13,1041.95 270.47,1042.9 276,1043.8 C281.53,1044.7 291.33,1045.22 294.4,1045.5" fill="none" stroke="#4a922c" stroke-width="3.2" stroke-linecap="round" stroke-linejoin="round"/>
<rect x="169.8" y="971.1" width="9.2" height="9.2" fill="#4a922c"/>
<rect x="229.8" y="1021.1" width="9.2" height="9.2" fill="#4a922c"/>
<rect x="289.8" y="1041.1" width="9.2" height="9.2" fill="#4a922c"/>
<path d="M174.4,944.4 C175.3,944.82 177.67,945.92 179.8,946.9 C181.93,947.88 184.73,949.48 187.2,950.3 C189.67,951.12 189.8,951.48 194.6,951.8 C199.4,952.12 209.37,952.13 216,952.2 C222.63,952.27 227.07,952.3 234.4,952.2 C241.73,952.1 250,951.8 260,951.6 C270,951.4 288.67,951.1 294.4,951" fill="none" stroke="#1d35f5" stroke-width="3.2" stroke-linecap="round" stroke-linejoin="round"/>
<rect x="169.8" y="939.8" width="9.2" height="9.2" fill="#1d35f5"/>
<rect x="229.8" y="948.9" width="9.2" height="9.2" fill="#1d35f5"/>
<rect x="289.8" y="945.8" width="9.2" height="9.2" fill="#1d35f5"/>
<path d="M174.4,968.3 C176.53,969.03 182.6,970.35 187.2,972.7 C191.8,975.05 197.07,978.32 202,982.4 C206.93,986.48 211.4,991.55 216.8,997.2 C222.2,1002.85 229.47,1011.62 234.4,1016.3 C239.33,1020.98 241.93,1022.7 246.4,1025.3 C250.87,1027.9 256.27,1030.3 261.2,1031.9 C266.13,1033.5 270.47,1034.17 276,1034.9 C281.53,1035.63 291.33,1036.07 294.4,1036.3" fill="none" stroke="#9a9a9a" stroke-width="3.2" stroke-linecap="round" stroke-linejoin="round"/>
<rect x="169.8" y="963" width="9.2" height="9.2" fill="#9a9a9a"/>
<rect x="229.8" y="1011.7" width="9.2" height="9.2" fill="#9a9a9a"/>
<rect x="289.8" y="1031.5" width="9.2" height="9.2" fill="#9a9a9a"/>
<line x1="315.5" y1="959.5" x2="332.6" y2="959.5" stroke="#9a9a9a" stroke-width="3.2" stroke-linecap="round"/>
<rect x="319.45" y="954.9" width="9.2" height="9.2" fill="#9a9a9a"/>
<text x="340.13" y="965.4" font-size="17" fill="#000">Scramble</text>
<line x1="315.5" y1="979.2" x2="332.6" y2="979.2" stroke="#1d35f5" stroke-width="3.2" stroke-linecap="round"/>
<rect x="319.45" y="974.6" width="9.2" height="9.2" fill="#1d35f5"/>
<text x="339.51" y="985.1" font-size="17" fill="#000">Kv1.3 siRNA</text>
<line x1="315.5" y1="999.2" x2="332.6" y2="999.2" stroke="#4a922c" stroke-width="3.2" stroke-linecap="round"/>
<rect x="319.45" y="994.6" width="9.2" height="9.2" fill="#4a922c"/>
<text x="339.51" y="1005.1" font-size="17" fill="#000">KCa3.1 siRNA</text>
<line x1="315.5" y1="1018.6" x2="332.6" y2="1018.6" stroke="#ee9a2c" stroke-width="3.2" stroke-linecap="round"/>
<path d="M319.22,1014.69 L328.88,1014.69 L324.05,1023.2 Z" fill="#ee9a2c"/>
<text x="340.04" y="1024.5" font-size="17" fill="#000">Combo siRNA</text>
<text transform="translate(150.1,1125.9) rotate(-90)" font-size="17">Vehicle</text>
<text transform="translate(180.2,1095) rotate(-90)" font-size="17">0.1</text>
<text transform="translate(238.8,1080.82) rotate(-90)" font-size="17">1</text>
<text transform="translate(300.7,1089.75) rotate(-90)" font-size="17">10</text>
<text transform="translate(331.1,1127.4) rotate(-90)" font-size="17">No stim</text>
<text x="190.93" y="1124.2" font-size="17" fill="#000">ShK (nM)</text>
<text transform="translate(37.2,1071.49) rotate(-90)" font-size="17">Proliferation (c.p.m.)</text>
<line x1="600.4" y1="938.5" x2="600.4" y2="1066.6" stroke="#000" stroke-width="2.2"/>
<line x1="594" y1="1059.6" x2="600.4" y2="1059.6" stroke="#000" stroke-width="2.2"/>
<text x="577.81" y="1065.5" font-size="17" fill="#000">0</text>
<line x1="594" y1="1029.57" x2="600.4" y2="1029.57" stroke="#000" stroke-width="2.2"/>
<text x="558.9" y="1035.47" font-size="17" fill="#000">500</text>
<line x1="594" y1="999.55" x2="600.4" y2="999.55" stroke="#000" stroke-width="2.2"/>
<text x="544.72" y="1005.45" font-size="17" fill="#000">1,000</text>
<line x1="594" y1="969.52" x2="600.4" y2="969.52" stroke="#000" stroke-width="2.2"/>
<text x="544.72" y="975.42" font-size="17" fill="#000">1,500</text>
<line x1="594" y1="939.5" x2="600.4" y2="939.5" stroke="#000" stroke-width="2.2"/>
<text x="544.72" y="945.4" font-size="17" fill="#000">2,000</text>
<line x1="594" y1="1059.6" x2="839.7" y2="1059.6" stroke="#000" stroke-width="2.2"/>
<line x1="660.4" y1="1059.6" x2="660.4" y2="1066.4" stroke="#000" stroke-width="2.2"/>
<line x1="720.2" y1="1059.6" x2="720.2" y2="1066.4" stroke="#000" stroke-width="2.2"/>
<line x1="780.4" y1="1059.6" x2="780.4" y2="1066.4" stroke="#000" stroke-width="2.2"/>
<line x1="838.6" y1="1059.6" x2="838.6" y2="1066.4" stroke="#000" stroke-width="2.2"/>
<rect x="624.9" y="949.2" width="10.8" height="110.4" rx="1.2" fill="#000"/>
<rect x="806.2" y="1051.8" width="8.3" height="7.8" fill="#fff" stroke="#000" stroke-width="2"/>
<path d="M660.4,1048.6 L720.3,1049.3 L780.3,1049.6" fill="none" stroke="#ee9a2c" stroke-width="3.2" stroke-linejoin="round"/>
<path d="M655.57,1044.69 L665.23,1044.69 L660.4,1053.2 Z" fill="#ee9a2c"/>
<path d="M715.47,1045.39 L725.13,1045.39 L720.3,1053.9 Z" fill="#ee9a2c"/>
<path d="M775.47,1045.69 L785.13,1045.69 L780.3,1054.2 Z" fill="#ee9a2c"/>
<path d="M660.4,980.7 L720.3,1033.8 L780.3,1048.1" fill="none" stroke="#4a922c" stroke-width="3.2" stroke-linejoin="round"/>
<rect x="657.1" y="977.4" width="6.6" height="6.6" fill="#4a922c"/>
<rect x="717" y="1030.5" width="6.6" height="6.6" fill="#4a922c"/>
<rect x="777" y="1044.8" width="6.6" height="6.6" fill="#4a922c"/>
<path d="M660.4,952 L720.3,956.1 L780.3,957.8" fill="none" stroke="#1d35f5" stroke-width="3.2" stroke-linejoin="round"/>
<rect x="655.8" y="947.4" width="9.2" height="9.2" fill="#1d35f5"/>
<rect x="715.7" y="951.5" width="9.2" height="9.2" fill="#1d35f5"/>
<rect x="775.7" y="953.2" width="9.2" height="9.2" fill="#1d35f5"/>
<path d="M660.4,954.4 L720.3,992.9 L780.3,1034.4" fill="none" stroke="#9a9a9a" stroke-width="3.2" stroke-linejoin="round"/>
<rect x="655.8" y="949.8" width="9.2" height="9.2" fill="#9a9a9a"/>
<rect x="715.7" y="988.3" width="9.2" height="9.2" fill="#9a9a9a"/>
<rect x="775.7" y="1029.8" width="9.2" height="9.2" fill="#9a9a9a"/>
<line x1="802.4" y1="957" x2="819.8" y2="957" stroke="#9a9a9a" stroke-width="3.2" stroke-linecap="round"/>
<rect x="806.5" y="952.4" width="9.2" height="9.2" fill="#9a9a9a"/>
<text x="827.53" y="963" font-size="17" fill="#000">Scramble</text>
<line x1="802.4" y1="977.1" x2="819.8" y2="977.1" stroke="#1d35f5" stroke-width="3.2" stroke-linecap="round"/>
<rect x="806.5" y="972.5" width="9.2" height="9.2" fill="#1d35f5"/>
<text x="826.91" y="983" font-size="17" fill="#000">Kv1.3 siRNA</text>
<line x1="802.4" y1="996.9" x2="819.8" y2="996.9" stroke="#4a922c" stroke-width="3.2" stroke-linecap="round"/>
<rect x="807.8" y="993.6" width="6.6" height="6.6" fill="#4a922c"/>
<text x="826.91" y="1002.8" font-size="17" fill="#000">KCa3.1 siRNA</text>
<line x1="802.4" y1="1016.7" x2="819.8" y2="1016.7" stroke="#ee9a2c" stroke-width="3.2" stroke-linecap="round"/>
<path d="M806.27,1012.79 L815.93,1012.79 L811.1,1021.3 Z" fill="#ee9a2c"/>
<text x="827.44" y="1022.6" font-size="17" fill="#000">Combo siRNA</text>
<text transform="translate(635.3,1129.6) rotate(-90)" font-size="17">Vehicle</text>
<text transform="translate(665.7,1108.16) rotate(-90)" font-size="17">0.01</text>
<text transform="translate(726.1,1098.7) rotate(-90)" font-size="17">0.1</text>
<text transform="translate(786.1,1084.32) rotate(-90)" font-size="17">1</text>
<text transform="translate(817.4,1131.1) rotate(-90)" font-size="17">No stim</text>
<text x="676.43" y="1136.6" font-size="17" fill="#000">ShK (nM)</text>
<text transform="translate(530.7,1059.87) rotate(-90)" font-size="17">IFN-γ<tspan dx="2.3">(pg ml</tspan><tspan font-size="11" dy="-6.5">−1</tspan><tspan dy="6.5">)</tspan></text>
<line x1="113.9" y1="1187.1" x2="113.9" y2="1314.6" stroke="#000" stroke-width="2.2"/>
<line x1="107.5" y1="1307.6" x2="113.9" y2="1307.6" stroke="#000" stroke-width="2.2"/>
<text x="92.41" y="1313.5" font-size="17" fill="#000">0</text>
<line x1="107.5" y1="1267.77" x2="113.9" y2="1267.77" stroke="#000" stroke-width="2.2"/>
<text x="49.87" y="1273.67" font-size="17" fill="#000">20,000</text>
<line x1="107.5" y1="1227.93" x2="113.9" y2="1227.93" stroke="#000" stroke-width="2.2"/>
<text x="49.87" y="1233.83" font-size="17" fill="#000">40,000</text>
<line x1="107.5" y1="1188.1" x2="113.9" y2="1188.1" stroke="#000" stroke-width="2.2"/>
<text x="49.87" y="1194" font-size="17" fill="#000">60,000</text>
<line x1="107.5" y1="1307.6" x2="355.7" y2="1307.6" stroke="#000" stroke-width="2.2"/>
<line x1="173.8" y1="1307.6" x2="173.8" y2="1314.4" stroke="#000" stroke-width="2.2"/>
<line x1="234.4" y1="1307.6" x2="234.4" y2="1314.4" stroke="#000" stroke-width="2.2"/>
<line x1="294.2" y1="1307.6" x2="294.2" y2="1314.4" stroke="#000" stroke-width="2.2"/>
<line x1="354.6" y1="1307.6" x2="354.6" y2="1314.4" stroke="#000" stroke-width="2.2"/>
<rect x="138.8" y="1194.2" width="11.1" height="113.4" rx="1.2" fill="#000"/>
<rect x="320.4" y="1301.4" width="8.3" height="6.2" fill="#fff" stroke="#000" stroke-width="2"/>
<path d="M174.4,1293.5 C184.4,1293.52 214.4,1293.58 234.4,1293.6 C254.4,1293.62 284.4,1293.6 294.4,1293.6" fill="none" stroke="#ee9a2c" stroke-width="3.2" stroke-linecap="round" stroke-linejoin="round"/>
<path d="M169.57,1288.59 L179.23,1288.59 L174.4,1297.1 Z" fill="#ee9a2c"/>
<path d="M229.57,1289.39 L239.23,1289.39 L234.4,1297.9 Z" fill="#ee9a2c"/>
<path d="M289.57,1289.29 L299.23,1289.29 L294.4,1297.8 Z" fill="#ee9a2c"/>
<path d="M174.4,1200 C179,1200.37 192,1201.35 202,1202.2 C212,1203.05 224.53,1204.37 234.4,1205.1 C244.27,1205.83 251.2,1206.18 261.2,1206.6 C271.2,1207.02 288.87,1207.43 294.4,1207.6" fill="none" stroke="#4a922c" stroke-width="3.2" stroke-linecap="round" stroke-linejoin="round"/>
<rect x="169.8" y="1195.4" width="9.2" height="9.2" fill="#4a922c"/>
<rect x="229.8" y="1200.6" width="9.2" height="9.2" fill="#4a922c"/>
<rect x="289.8" y="1203.1" width="9.2" height="9.2" fill="#4a922c"/>
<path d="M174.4,1206.5 C176.53,1207.23 182.6,1208.07 187.2,1210.9 C191.8,1213.73 197.07,1218.68 202,1223.5 C206.93,1228.32 211.4,1233.97 216.8,1239.8 C222.2,1245.63 229.47,1253.82 234.4,1258.5 C239.33,1263.18 241.93,1264.98 246.4,1267.9 C250.87,1270.82 256.27,1273.9 261.2,1276 C266.13,1278.1 270.47,1279.45 276,1280.5 C281.53,1281.55 291.33,1282 294.4,1282.3" fill="none" stroke="#1d35f5" stroke-width="3.2" stroke-linecap="round" stroke-linejoin="round"/>
<rect x="169.8" y="1201.9" width="9.2" height="9.2" fill="#1d35f5"/>
<rect x="229.8" y="1254.2" width="9.2" height="9.2" fill="#1d35f5"/>
<rect x="289.8" y="1277.7" width="9.2" height="9.2" fill="#1d35f5"/>
<path d="M174.4,1203.5 C179,1203.78 192,1204.12 202,1205.2 C212,1206.28 224.53,1208.43 234.4,1210 C244.27,1211.57 251.2,1213.38 261.2,1214.6 C271.2,1215.82 288.87,1216.85 294.4,1217.3" fill="none" stroke="#9a9a9a" stroke-width="3.2" stroke-linecap="round" stroke-linejoin="round"/>
<rect x="169.8" y="1199.1" width="9.2" height="9.2" fill="#9a9a9a"/>
<rect x="229.8" y="1205.5" width="9.2" height="9.2" fill="#9a9a9a"/>
<rect x="289.8" y="1212.9" width="9.2" height="9.2" fill="#9a9a9a"/>
<line x1="316.7" y1="1209.5" x2="334.2" y2="1209.5" stroke="#9a9a9a" stroke-width="3.2" stroke-linecap="round"/>
<rect x="320.85" y="1204.9" width="9.2" height="9.2" fill="#9a9a9a"/>
<text x="341.73" y="1215.4" font-size="17" fill="#000">Scramble</text>
<line x1="316.7" y1="1229.2" x2="334.2" y2="1229.2" stroke="#1d35f5" stroke-width="3.2" stroke-linecap="round"/>
<rect x="320.85" y="1224.6" width="9.2" height="9.2" fill="#1d35f5"/>
<text x="341.11" y="1235.1" font-size="17" fill="#000">Kv1.3 siRNA</text>
<line x1="316.7" y1="1248.9" x2="334.2" y2="1248.9" stroke="#4a922c" stroke-width="3.2" stroke-linecap="round"/>
<rect x="320.85" y="1244.3" width="9.2" height="9.2" fill="#4a922c"/>
<text x="341.11" y="1254.8" font-size="17" fill="#000">KCa3.1 siRNA</text>
<line x1="316.7" y1="1268.6" x2="334.2" y2="1268.6" stroke="#ee9a2c" stroke-width="3.2" stroke-linecap="round"/>
<path d="M320.62,1264.69 L330.28,1264.69 L325.45,1273.2 Z" fill="#ee9a2c"/>
<text x="341.64" y="1274.4" font-size="17" fill="#000">Combo siRNA</text>
<text transform="translate(150.1,1377.2) rotate(-90)" font-size="17">Vehicle</text>
<text transform="translate(179,1355.66) rotate(-90)" font-size="17">0.01</text>
<text transform="translate(238.8,1346.2) rotate(-90)" font-size="17">0.1</text>
<text transform="translate(299.6,1331.32) rotate(-90)" font-size="17">1</text>
<text transform="translate(332.3,1378.7) rotate(-90)" font-size="17">No stim</text>
<text x="170.62" y="1376.6" font-size="17" fill="#000">TRAM-34 (μM)</text>
<text transform="translate(37.2,1315.99) rotate(-90)" font-size="17">Proliferation (c.p.m.)</text>
<line x1="598.5" y1="1186.9" x2="598.5" y2="1314.7" stroke="#000" stroke-width="2.2"/>
<line x1="592.1" y1="1307.7" x2="598.5" y2="1307.7" stroke="#000" stroke-width="2.2"/>
<text x="577.81" y="1313.6" font-size="17" fill="#000">0</text>
<line x1="592.1" y1="1277.75" x2="598.5" y2="1277.75" stroke="#000" stroke-width="2.2"/>
<text x="558.9" y="1283.65" font-size="17" fill="#000">500</text>
<line x1="592.1" y1="1247.8" x2="598.5" y2="1247.8" stroke="#000" stroke-width="2.2"/>
<text x="544.72" y="1253.7" font-size="17" fill="#000">1,000</text>
<line x1="592.1" y1="1217.85" x2="598.5" y2="1217.85" stroke="#000" stroke-width="2.2"/>
<text x="544.72" y="1223.75" font-size="17" fill="#000">1,500</text>
<line x1="592.1" y1="1187.9" x2="598.5" y2="1187.9" stroke="#000" stroke-width="2.2"/>
<text x="544.72" y="1193.8" font-size="17" fill="#000">2,000</text>
<line x1="592.1" y1="1307.7" x2="839.5" y2="1307.7" stroke="#000" stroke-width="2.2"/>
<line x1="658.2" y1="1307.7" x2="658.2" y2="1314.5" stroke="#000" stroke-width="2.2"/>
<line x1="718.2" y1="1307.7" x2="718.2" y2="1314.5" stroke="#000" stroke-width="2.2"/>
<line x1="778.3" y1="1307.7" x2="778.3" y2="1314.5" stroke="#000" stroke-width="2.2"/>
<line x1="838.4" y1="1307.7" x2="838.4" y2="1314.5" stroke="#000" stroke-width="2.2"/>
<rect x="623.4" y="1197.8" width="10.3" height="109.9" rx="1.2" fill="#000"/>
<rect x="805" y="1301" width="7.6" height="6.7" fill="#fff" stroke="#000" stroke-width="2"/>
<path d="M658.4,1294.6 L718.5,1293.9 L778.5,1296.4" fill="none" stroke="#ee9a2c" stroke-width="3.2" stroke-linejoin="round"/>
<path d="M653.57,1290.69 L663.23,1290.69 L658.4,1299.2 Z" fill="#ee9a2c"/>
<path d="M713.67,1289.99 L723.33,1289.99 L718.5,1298.5 Z" fill="#ee9a2c"/>
<path d="M773.67,1292.49 L783.33,1292.49 L778.5,1301 Z" fill="#ee9a2c"/>
<path d="M658.4,1203 L718.5,1212.4 L778.5,1211" fill="none" stroke="#4a922c" stroke-width="3.2" stroke-linejoin="round"/>
<rect x="653.8" y="1198.4" width="9.2" height="9.2" fill="#4a922c"/>
<rect x="713.9" y="1207.8" width="9.2" height="9.2" fill="#4a922c"/>
<rect x="773.9" y="1206.4" width="9.2" height="9.2" fill="#4a922c"/>
<path d="M658.4,1232.5 L718.5,1275.6 L778.5,1292.3" fill="none" stroke="#1d35f5" stroke-width="3.2" stroke-linejoin="round"/>
<rect x="653.8" y="1227.9" width="9.2" height="9.2" fill="#1d35f5"/>
<rect x="713.9" y="1271" width="9.2" height="9.2" fill="#1d35f5"/>
<rect x="773.9" y="1287.7" width="9.2" height="9.2" fill="#1d35f5"/>
<path d="M658.4,1199.2 L718.5,1202.4 L778.5,1209.3" fill="none" stroke="#9a9a9a" stroke-width="3.2" stroke-linejoin="round"/>
<rect x="653.8" y="1194.6" width="9.2" height="9.2" fill="#9a9a9a"/>
<rect x="713.9" y="1197.8" width="9.2" height="9.2" fill="#9a9a9a"/>
<rect x="773.9" y="1204.7" width="9.2" height="9.2" fill="#9a9a9a"/>
<line x1="799.8" y1="1209.5" x2="817.2" y2="1209.5" stroke="#9a9a9a" stroke-width="3.2" stroke-linecap="round"/>
<rect x="803.9" y="1204.9" width="9.2" height="9.2" fill="#9a9a9a"/>
<text x="824.73" y="1215.3" font-size="17" fill="#000">Scramble</text>
<line x1="799.8" y1="1229.2" x2="817.2" y2="1229.2" stroke="#1d35f5" stroke-width="3.2" stroke-linecap="round"/>
<rect x="803.9" y="1224.6" width="9.2" height="9.2" fill="#1d35f5"/>
<text x="824.11" y="1235" font-size="17" fill="#000">Kv1.3 siRNA</text>
<line x1="799.8" y1="1248.5" x2="817.2" y2="1248.5" stroke="#4a922c" stroke-width="3.2" stroke-linecap="round"/>
<rect x="803.9" y="1243.9" width="9.2" height="9.2" fill="#4a922c"/>
<text x="824.11" y="1254.3" font-size="17" fill="#000">KCa3.1 siRNA</text>
<line x1="799.8" y1="1268.3" x2="817.2" y2="1268.3" stroke="#ee9a2c" stroke-width="3.2" stroke-linecap="round"/>
<path d="M803.67,1264.39 L813.33,1264.39 L808.5,1272.9 Z" fill="#ee9a2c"/>
<text x="824.64" y="1274.1" font-size="17" fill="#000">Combo siRNA</text>
<text transform="translate(636.2,1375.6) rotate(-90)" font-size="17">Vehicle</text>
<text transform="translate(666.7,1355.46) rotate(-90)" font-size="17">0.01</text>
<text transform="translate(724.7,1346) rotate(-90)" font-size="17">0.1</text>
<text transform="translate(784.6,1331.32) rotate(-90)" font-size="17">1</text>
<text transform="translate(817.4,1377.1) rotate(-90)" font-size="17">No stim</text>
<text x="657.02" y="1385.3" font-size="17" fill="#000">TRAM-34 (μM)</text>
<text transform="translate(530.7,1307.57) rotate(-90)" font-size="17">IFN-γ<tspan dx="2.3">(pg ml</tspan><tspan font-size="11" dy="-6.5">−1</tspan><tspan dy="6.5">)</tspan></text>
</svg></body></html>
